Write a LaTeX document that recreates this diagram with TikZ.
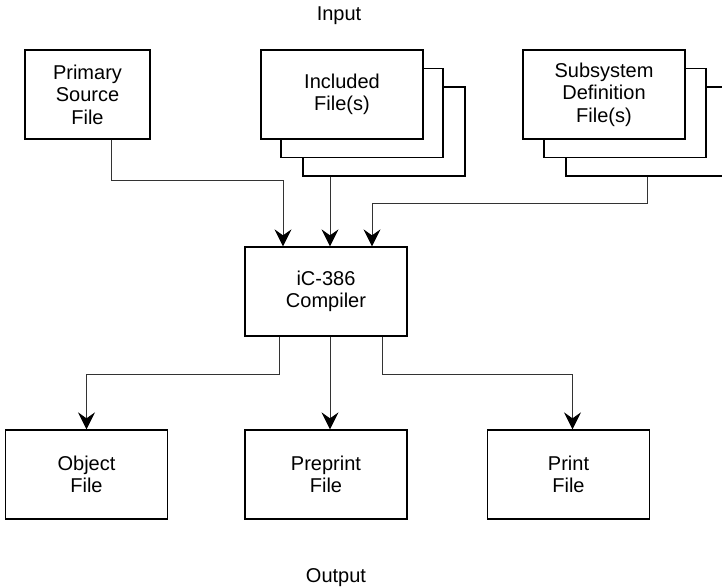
\documentclass[tikz,border=0pt]{standalone}
\usepackage{fontspec}
\setmainfont{Liberation Sans}
\usetikzlibrary{positioning,arrows.meta}

\begin{document}
\begin{tikzpicture}[x=1pt,y=1pt,on grid,
    box/.style={draw,fill=white,line width=1.3pt,minimum width=162pt,minimum height=89pt,
      align=center,inner sep=0pt,font=\fontsize{20}{22.5}\selectfont},
    lbl/.style={font=\fontsize{20}{24}\selectfont},
    flow/.style={-{Stealth[length=17pt,width=17pt,inset=6pt,color=black]},line width=0.9pt,draw=black!80}]
  \useasboundingbox (0,0) rectangle (722,-588);
  \clip (0,0) rectangle (722,-588);
  \coordinate (InclC) at (342,-94.5);
  \coordinate[right=262pt of InclC] (SubC);

  \node[box] (Incl3) at ([shift={(42,-37)}]InclC) {};
  \node[box] (Incl2) at ([shift={(20,-18.5)}]InclC) {};
  \node[box] (Incl) at (InclC) {Included\\File(s)};
  \node[box,minimum width=125pt] (Prim) [left=254.5pt of Incl] {Primary\\Source\\File};
  \node[box] (Sub3) at ([shift={(43,-37)}]SubC) {};
  \node[box] (Sub2) at ([shift={(21,-18.5)}]SubC) {};
  \node[box] (Sub) at (SubC) {Subsystem\\Definition\\File(s)};

  \node[box] (Comp) at (326,-291.5) {iC-386\\Compiler};
  \node[box] (Prep) [below=183pt of Comp] {Preprint\\File};
  \node[box] (Obj) [left=239.5pt of Prep] {Object\\File};
  \node[box] (Print) [right=242.5pt of Prep] {Print\\File};

  \node[lbl] (In) at (339,-16) {Input};
  \node[lbl] (Out) at (336,-578) {Output};

  \draw[flow] ([xshift=23.5pt]Prim.south) -- ++(0,-41) -| ([xshift=-43pt]Comp.north);
  \draw[flow] ([xshift=-54pt]Incl3.south) -- ([xshift=4pt]Comp.north);
  \draw[flow] (Sub3.south) -- ++(0,-27) -| ([xshift=46pt]Comp.north);
  \draw[flow] ([xshift=-47pt]Comp.south) -- ++(0,-38) -| (Obj.north);
  \draw[flow] ([xshift=4pt]Comp.south) -- ([xshift=4pt]Prep.north);
  \draw[flow] ([xshift=56pt]Comp.south) -- ++(0,-38) -| ([xshift=4pt]Print.north);
\end{tikzpicture}
\end{document}
